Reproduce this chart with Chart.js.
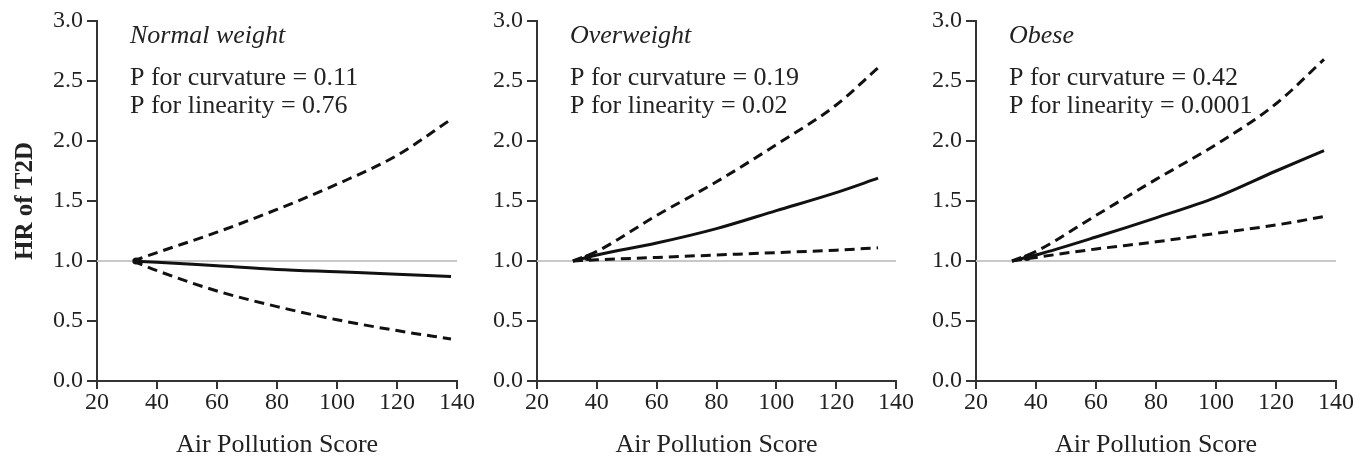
<!DOCTYPE html>
<html>
<head>
<meta charset="utf-8">
<title>HR of T2D by Air Pollution Score</title>
<script src="https://cdn.jsdelivr.net/npm/chart.js@4/dist/chart.umd.min.js"></script>
<style>
    html, body { margin: 0; padding: 0; background: #fff; }
    #figure { position: relative; width: 1369px; height: 460px; }
    .panel { position: absolute; top: 0; height: 460px; }
    #panel-normal { left: 0; width: 487px; }
    #panel-over { left: 487px; width: 439px; }
    #panel-obese { left: 926px; width: 440px; }
</style>
</head>
<body>
<div id="figure">
    <div class="panel" id="panel-normal"><canvas id="chart-normal"></canvas></div>
    <div class="panel" id="panel-over"><canvas id="chart-over"></canvas></div>
    <div class="panel" id="panel-obese"><canvas id="chart-obese"></canvas></div>
</div>

<script>
// Axis ticks
const xTicks = [20, 40, 60, 80, 100, 120, 140];
const yTicks = [0.0, 0.5, 1.0, 1.5, 2.0, 2.5, 3.0];

// Normal weight
const scoreNormal = [32, 40, 60, 80, 100, 120, 138];
const hrNormal    = [1.00, 0.99, 0.96, 0.93, 0.91, 0.89, 0.87];
const upperNormal = [1.00, 1.07, 1.24, 1.43, 1.64, 1.88, 2.18];
const lowerNormal = [1.00, 0.92, 0.75, 0.62, 0.51, 0.42, 0.35];
const refNormal   = [33, 1.00];

// Overweight
const scoreOver = [32, 40, 60, 80, 100, 120, 134];
const hrOver    = [1.00, 1.05, 1.15, 1.27, 1.42, 1.57, 1.69];
const upperOver = [1.00, 1.08, 1.38, 1.66, 1.97, 2.30, 2.61];
const lowerOver = [1.00, 1.01, 1.03, 1.05, 1.07, 1.09, 1.11];
const refOver   = [37, 1.03];

// Obese
const scoreObese = [32, 40, 60, 80, 100, 120, 136];
const hrObese    = [1.00, 1.05, 1.20, 1.36, 1.53, 1.75, 1.92];
const upperObese = [1.00, 1.08, 1.38, 1.68, 1.97, 2.31, 2.68];
const lowerObese = [1.00, 1.03, 1.10, 1.16, 1.23, 1.30, 1.37];
const refObese   = [37, 1.03];

const SERIF = '"Liberation Serif", "Times New Roman", serif';
const INK = '#222';

// draws the group name and the two P values inside the plot area
const notesPlugin = {
    id: 'panelNotes',
    afterDatasetsDraw(chart, args, opts) {
        const { ctx, chartArea } = chart;
        const x = chartArea.left + 33;
        ctx.save();
        ctx.fillStyle = INK;
        ctx.textAlign = 'left';
        ctx.textBaseline = 'middle';
        ctx.font = 'italic 26px ' + SERIF;
        ctx.fillText(opts.group, x, chartArea.top + 15);
        ctx.font = '26px ' + SERIF;
        ctx.fillText(opts.curvature, x, chartArea.top + 57);
        ctx.fillText(opts.linearity, x, chartArea.top + 85);
        ctx.restore();
    }
};

function pairs(xs, ys) {
    return xs.map((x, i) => ({ x: x, y: ys[i] }));
}

function buildChart(canvasId, panel) {
    const dashed = {
        borderColor: '#111',
        borderWidth: 3,
        borderDash: [10, 6],
        pointRadius: 0,
        cubicInterpolationMode: 'monotone'
    };

    return new Chart(document.getElementById(canvasId), {
        type: 'line',
        data: {
            datasets: [
                {
                    label: 'Reference',
                    data: [{ x: panel.ref[0], y: panel.ref[1] }],
                    showLine: false,
                    pointRadius: 3.5,
                    pointBackgroundColor: '#111',
                    pointBorderWidth: 0
                },
                {
                    label: 'HR',
                    data: pairs(panel.score, panel.hr),
                    borderColor: '#111',
                    borderWidth: 3,
                    pointRadius: 0,
                    cubicInterpolationMode: 'monotone'
                },
                Object.assign({ label: 'Upper 95% CI', data: pairs(panel.score, panel.upper) }, dashed),
                Object.assign({ label: 'Lower 95% CI', data: pairs(panel.score, panel.lower) }, dashed),
                {
                    label: 'HR = 1',
                    data: [{ x: xTicks[0], y: 1 }, { x: xTicks[xTicks.length - 1], y: 1 }],
                    borderColor: '#c8c8c8',
                    borderWidth: 2,
                    pointRadius: 0
                }
            ]
        },
        options: {
            responsive: true,
            maintainAspectRatio: false,
            animation: false,
            layout: { padding: { top: 21, right: 30, bottom: 0, left: 0 } },
            plugins: {
                legend: { display: false },
                tooltip: { enabled: false },
                panelNotes: panel.notes
            },
            scales: {
                x: {
                    type: 'linear',
                    min: xTicks[0],
                    max: xTicks[xTicks.length - 1],
                    afterBuildTicks: s => { s.ticks = xTicks.map(v => ({ value: v })); },
                    afterFit: s => { s.height = 79; },
                    border: { display: true, color: '#333', width: 2 },
                    grid: { drawOnChartArea: false, drawTicks: true, tickLength: 8, color: '#333', lineWidth: 2 },
                    ticks: { color: INK, padding: -1, maxRotation: 0, font: { family: SERIF, size: 24 } },
                    title: {
                        display: true,
                        text: 'Air Pollution Score',
                        color: INK,
                        padding: { top: 0, bottom: -1 },
                        font: { family: SERIF, size: 26 }
                    }
                },
                y: {
                    type: 'linear',
                    min: yTicks[0],
                    max: yTicks[yTicks.length - 1],
                    afterBuildTicks: s => { s.ticks = yTicks.map(v => ({ value: v })); },
                    afterFit: s => { s.width = panel.axisWidth; },
                    border: { display: true, color: '#333', width: 2 },
                    grid: { drawOnChartArea: false, drawTicks: true, tickLength: 10, color: '#333', lineWidth: 2 },
                    ticks: {
                        color: INK,
                        padding: 4,
                        font: { family: SERIF, size: 24 },
                        callback: v => v.toFixed(1)
                    },
                    title: {
                        display: panel.showTitle,
                        text: 'HR of T2D',
                        color: INK,
                        padding: { top: 11, bottom: 0 },
                        font: { family: SERIF, size: 25, weight: 'bold' }
                    }
                }
            }
        },
        plugins: [notesPlugin]
    });
}

buildChart('chart-normal', {
    score: scoreNormal, hr: hrNormal, upper: upperNormal, lower: lowerNormal, ref: refNormal,
    axisWidth: 97, showTitle: true,
    notes: { group: 'Normal weight', curvature: 'P for curvature = 0.11', linearity: 'P for linearity = 0.76' }
});

buildChart('chart-over', {
    score: scoreOver, hr: hrOver, upper: upperOver, lower: lowerOver, ref: refOver,
    axisWidth: 50, showTitle: false,
    notes: { group: 'Overweight', curvature: 'P for curvature = 0.19', linearity: 'P for linearity = 0.02' }
});

buildChart('chart-obese', {
    score: scoreObese, hr: hrObese, upper: upperObese, lower: lowerObese, ref: refObese,
    axisWidth: 50, showTitle: false,
    notes: { group: 'Obese', curvature: 'P for curvature = 0.42', linearity: 'P for linearity = 0.0001' }
});
</script>
</body>
</html>
